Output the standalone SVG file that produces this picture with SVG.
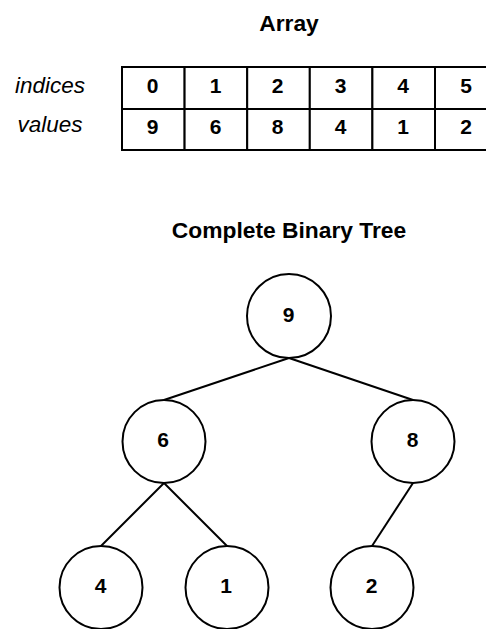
<svg xmlns="http://www.w3.org/2000/svg" width="486" height="629" viewBox="0 0 486 629">
  <style>
    .title { font-family: "Liberation Sans", Arial, sans-serif; font-size: 22.8px; font-weight: bold; text-anchor: middle; fill: #000; }
    .label { font-family: "Liberation Sans", Arial, sans-serif; font-size: 22.5px; font-style: italic; text-anchor: middle; fill: #000; }
    .cell { fill: #fff; stroke: #000; stroke-width: 2; }
    .num { font-family: "Liberation Sans", Arial, sans-serif; font-size: 21px; font-weight: bold; text-anchor: middle; fill: #000; }
    .node circle { fill: #fff; stroke: #000; stroke-width: 2; }
    .edge { stroke: #000; stroke-width: 2; fill: none; }
  </style>
  <rect width="486" height="629" fill="#fff"/>

  <!-- array section -->
  <text class="title" x="289" y="31">Array</text>
  <text class="label" x="50" y="93">indices</text>
  <text class="label" x="50" y="132">values</text>
  <g id="array">
    <rect class="cell" x="122" y="67" width="62.6" height="42"/>
    <rect class="cell" x="184.6" y="67" width="62.6" height="42"/>
    <rect class="cell" x="247.2" y="67" width="62.6" height="42"/>
    <rect class="cell" x="309.8" y="67" width="62.6" height="42"/>
    <rect class="cell" x="372.4" y="67" width="62.6" height="42"/>
    <rect class="cell" x="435" y="67" width="62.6" height="42"/>
    <rect class="cell" x="122" y="109" width="62.6" height="41"/>
    <rect class="cell" x="184.6" y="109" width="62.6" height="41"/>
    <rect class="cell" x="247.2" y="109" width="62.6" height="41"/>
    <rect class="cell" x="309.8" y="109" width="62.6" height="41"/>
    <rect class="cell" x="372.4" y="109" width="62.6" height="41"/>
    <rect class="cell" x="435" y="109" width="62.6" height="41"/>
    <text class="num" x="152.5" y="93">0</text>
    <text class="num" x="215.5" y="93">1</text>
    <text class="num" x="277.5" y="93">2</text>
    <text class="num" x="340.5" y="93">3</text>
    <text class="num" x="403" y="93">4</text>
    <text class="num" x="466" y="93">5</text>
    <text class="num" x="152.5" y="134">9</text>
    <text class="num" x="215.5" y="134">6</text>
    <text class="num" x="277.5" y="134">8</text>
    <text class="num" x="340.5" y="134">4</text>
    <text class="num" x="403" y="134">1</text>
    <text class="num" x="466" y="134">2</text>
  </g>

  <!-- tree section -->
  <text class="title" x="289" y="238">Complete Binary Tree</text>

  <g id="edges">
    <line class="edge" x1="289" y1="358" x2="164" y2="400"/>
    <line class="edge" x1="289" y1="358" x2="413" y2="400"/>
    <line class="edge" x1="164" y1="483" x2="101" y2="546"/>
    <line class="edge" x1="164" y1="483" x2="227" y2="546"/>
    <line class="edge" x1="413" y1="483" x2="372" y2="546"/>
  </g>

  <g id="n9" class="node"><circle cx="289" cy="316" r="42"/><text class="num" x="288.5" y="321.5">9</text></g>
  <g id="n6" class="node"><circle cx="164" cy="441.5" r="41.5"/><text class="num" x="163" y="446.5">6</text></g>
  <g id="n8" class="node"><circle cx="413" cy="441.5" r="41.5"/><text class="num" x="412.5" y="446.5">8</text></g>
  <g id="n4" class="node"><circle cx="101" cy="587.5" r="41.5"/><text class="num" x="100.5" y="592.5">4</text></g>
  <g id="n1" class="node"><circle cx="227" cy="587.5" r="41.5"/><text class="num" x="226" y="592.5">1</text></g>
  <g id="n2" class="node"><circle cx="372" cy="587.5" r="41.5"/><text class="num" x="371.5" y="592.5">2</text></g>
</svg>
